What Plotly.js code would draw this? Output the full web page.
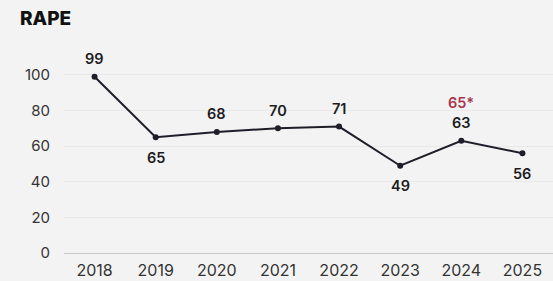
<!DOCTYPE html>
<html><head><meta charset="utf-8">
<script src="https://cdn.plot.ly/plotly-3.0.1.min.js"></script>
<style>html,body{margin:0;padding:0;background:#f3f3f3;}#c{width:553px;height:281px;}</style>
</head><body><div id="c"></div>
<script>
const years = [2018, 2019, 2020, 2021, 2022, 2023, 2024, 2025];
const values = [99, 65, 68, 70, 71, 49, 63, 56];
const labelSide = ["above", "below", "above", "above", "above", "below", "above", "below"];
const noteYear = 2024;
const noteBase = 63;
const noteText = "65*";
const yTicks = [0, 20, 40, 60, 80, 100];

const FONT = 'Inter, "Noto Sans", sans-serif';
const annotations = years.map((y, i) => ({
  x: y, y: values[i], xref: 'x', yref: 'y', text: String(values[i]),
  showarrow: false, yanchor: 'middle', yshift: labelSide[i] === 'above' ? 18 : -20,
  font: {family: FONT, size: 14.5, color: '#1c1c22', weight: 600}
}));
annotations.push({
  x: noteYear, y: noteBase, xref: 'x', yref: 'y', text: noteText, showarrow: false,
  yanchor: 'middle', yshift: 38,
  font: {family: FONT, size: 14.5, color: '#a8364f', weight: 600}
});

Plotly.newPlot('c', [{
  x: years, y: values, type: 'scatter', mode: 'lines+markers',
  line: {color: '#1e1e2a', width: 2},
  marker: {color: '#1e1e2a', size: 6},
  hoverinfo: 'skip'
}], {
  width: 553, height: 281,
  margin: {l: 64, r: 0, t: 66, b: 28},
  paper_bgcolor: '#f3f3f3', plot_bgcolor: '#f3f3f3',
  showlegend: false,
  title: {
    text: 'RAPE', xref: 'container', yref: 'container', x: 20 / 553, xanchor: 'left',
    y: 1 - 18 / 281, yanchor: 'middle', pad: {t: 0, b: 0, l: 0, r: 0},
    font: {family: FONT, size: 19, color: '#111', weight: 800}
  },
  xaxis: {
    range: [2017.5, 2025.5], tickvals: years, ticktext: years.map(String),
    showgrid: false, zeroline: false, showline: true, linecolor: '#c8c8c8', linewidth: 1,
    ticks: '', ticklabelstandoff: 3,
    tickfont: {family: FONT, size: 16, color: '#333'}
  },
  yaxis: {
    range: [0, 105], tickvals: yTicks, ticktext: yTicks.map(String),
    showgrid: true, gridcolor: '#e9e9e9', zeroline: false, showline: false,
    ticks: '', ticklabelstandoff: 13,
    tickfont: {family: FONT, size: 15, color: '#333'}
  },
  annotations: annotations
}, {staticPlot: true});
</script></body></html>
